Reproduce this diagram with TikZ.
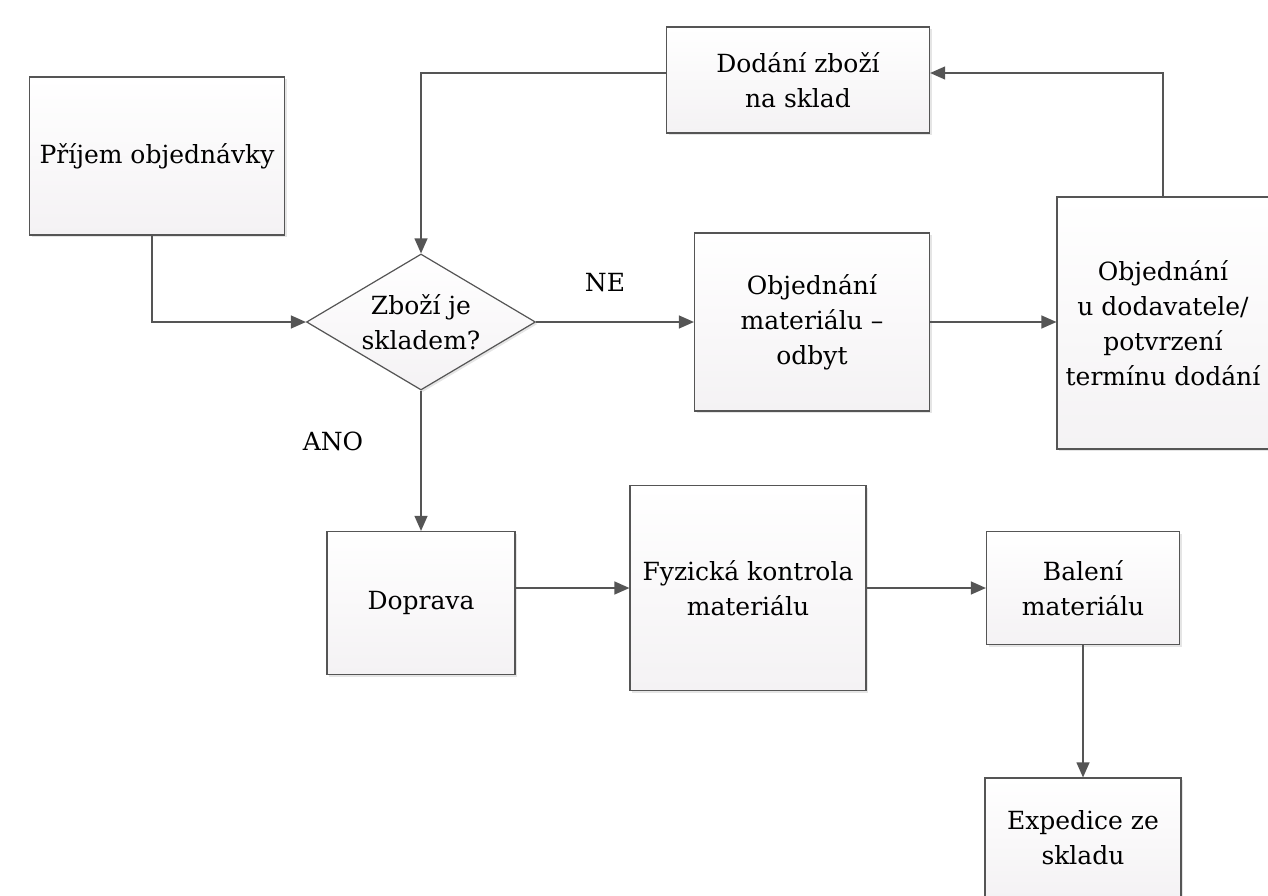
\documentclass[tikz,border=0pt]{standalone}
\usepackage{fontspec}
\setmainfont{DejaVu Serif}
\usetikzlibrary{shapes.geometric,arrows.meta,shadows}
\definecolor{ln}{HTML}{555555}
\definecolor{boxtop}{HTML}{FFFFFF}
\definecolor{boxbot}{HTML}{F4F2F4}
\tikzset{
  box/.style={draw=ln, line width=1.2pt, top color=boxtop, bottom color=boxbot,
    align=center, inner sep=2pt, font=\fontsize{25}{35}\selectfont,
    drop shadow={shadow xshift=2pt, shadow yshift=-2pt, fill=black, opacity=0.10}},
  conn/.style={draw=ln, line width=1.2pt, -{Triangle[length=15pt,width=13pt]}},
  lbl/.style={font=\fontsize{25}{30}\selectfont}
}
\begin{document}
\begin{tikzpicture}[x=1pt,y=-1pt]
\useasboundingbox (0,0) rectangle (1268,896);
\node[box, minimum width=255, minimum height=158] (prijem) at (157,156) {Příjem objednávky};
\node[box, shape=diamond, aspect=1.68, minimum width=229, minimum height=136, inner sep=0pt] (zbozi) at (421,322) {Zboží je\\skladem?};
\node[box, minimum width=263, minimum height=106] (dodani) at (798,80) {Dodání zboží\\na sklad};
\node[box, minimum width=235, minimum height=178] (objmat) at (812,322) {Objednání\\materiálu –\\odbyt};
\node[box, minimum width=212, minimum height=252] (objdod) at (1163,323) {Objednání\\u dodavatele/\\potvrzení\\termínu dodání};
\node[box, minimum width=188, minimum height=143] (doprava) at (421,603) {Doprava};
\node[box, minimum width=236, minimum height=205] (fyz) at (748,588) {Fyzická kontrola\\materiálu};
\node[box, minimum width=193, minimum height=113] (baleni) at (1083,588) {Balení\\materiálu};
\node[box, minimum width=196, minimum height=120] (exped) at (1083,838) {Expedice ze\\skladu};
\draw[conn] ([xshift=-5pt]prijem.south) |- (zbozi.west);
\draw[conn] ([yshift=7pt]dodani.west) -| (zbozi.north);
\draw[conn] (zbozi.east) -- (objmat.west |- zbozi.east);
\draw[conn] (objmat.east) -- (objdod.west |- objmat.east);
\draw[conn] (objdod.north) |- ([yshift=7pt]dodani.east);
\draw[conn] (zbozi.south) -- (doprava.north);
\draw[conn] (doprava.east |- fyz.west) -- (fyz.west);
\draw[conn] (fyz.east) -- (baleni.west);
\draw[conn] (baleni.south) -- (exped.north);
\node[lbl] (ne) at (605,283) {NE};
\node[lbl] (ano) at (333,441) {ANO};
\end{tikzpicture}
\end{document}
